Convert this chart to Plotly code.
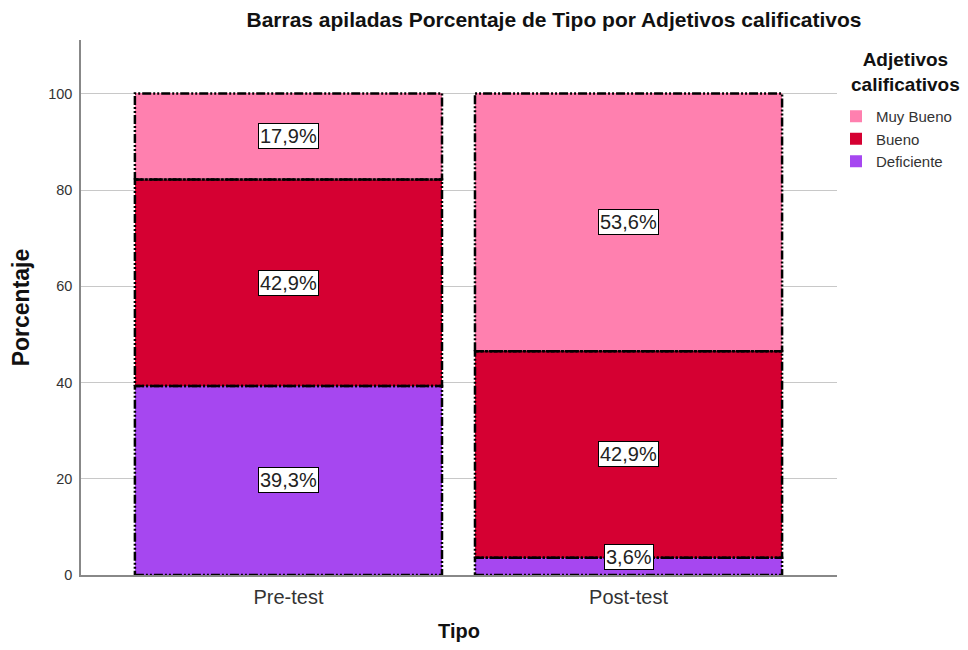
import plotly.graph_objects as go

categories = ["Pre-test", "Post-test"]
series_names = ["Deficiente", "Bueno", "Muy Bueno"]
deficiente = [39.3, 3.6]
bueno = [42.9, 42.9]
muy_bueno = [17.9, 53.6]
y_ticks = [0, 20, 40, 60, 80, 100]

values = [deficiente, bueno, muy_bueno]
colors = ["#A647F0", "#D50032", "#FF80AF"]

x_pos = list(range(len(categories)))
bar_w = 0.903
FONT = "Liberation Sans, Arial"

# page has an 8px body margin; compensate so no scrollbars appear
W, H = 952, 634
ML, MT, MR, MB = 73, 32, 123, 67
PW = W - ML - MR
PH = H - MT - MB

fig = go.Figure()
for name, vals, col in zip(series_names, values, colors):
    fig.add_trace(go.Bar(
        x=x_pos, y=vals, name=name, width=bar_w,
        marker=dict(color=col, line=dict(width=0)),
    ))

annotations = []
base = [0.0] * len(categories)
for vals in values:
    for i, v in enumerate(vals):
        x0, x1 = x_pos[i] - bar_w / 2, x_pos[i] + bar_w / 2
        y0, y1 = base[i], base[i] + v
        fig.add_trace(go.Scatter(
            x=[x0, x1, x1, x0, x0], y=[y0, y0, y1, y1, y0],
            mode="lines", showlegend=False, hoverinfo="skip",
            line=dict(color="black", width=2.5, dash="9px,2px,2px,2px,2px,2px"),
        ))
        small = v < 10
        annotations.append(dict(
            x=x_pos[i], y=(y0 if small else (y0 + y1) / 2),
            xref="x", yref="y", showarrow=False,
            text=f"{v:.1f}%".replace(".", ","),
            yanchor="bottom" if small else "middle",
            yshift=5 if small else 0,
            font=dict(family=FONT, size=20, color="#222"),
            bgcolor="white", bordercolor="black", borderwidth=1, borderpad=1,
        ))
        base[i] = y1

# legend title (page px -> paper)
annotations.append(dict(
    x=(906 - 81) / PW, y=(575 - 72) / PH, xref="paper", yref="paper",
    xanchor="center", yanchor="middle", showarrow=False,
    text="<b>Adjetivos<br>calificativos</b>",
    font=dict(family=FONT, size=19, color="#111"),
))

fig.update_layout(
    width=W, height=H,
    margin=dict(l=ML, r=MR, t=MT, b=MB, autoexpand=False),
    paper_bgcolor="white", plot_bgcolor="white",
    barmode="stack", bargap=0,
    title=dict(
        text="<b>Barras apiladas Porcentaje de Tipo por Adjetivos calificativos</b>",
        x=(554 - 8) / W, xanchor="center", y=1 - 12 / H, yanchor="middle",
        font=dict(family=FONT, size=21, color="#111"),
    ),
    font=dict(family=FONT, color="#222"),
    xaxis=dict(
        range=[-0.61, 1.613], tickmode="array", tickvals=x_pos, ticktext=categories,
        showgrid=False, zeroline=False, showline=True, linecolor="#888", linewidth=1.5,
        tickfont=dict(size=20, color="#333"), ticks="", ticklabelstandoff=3,
        automargin=False,
        title=dict(text="<b>Tipo</b>", font=dict(size=20, color="#111"), standoff=23),
    ),
    yaxis=dict(
        range=[0, 111.2], tickmode="array", tickvals=y_ticks,
        showgrid=True, gridcolor="#C8C8C8", gridwidth=1, zeroline=False,
        showline=True, linecolor="#888", linewidth=1.5,
        tickfont=dict(size=14.5, color="#333"), ticks="", ticklabelstandoff=4,
        automargin=False,
        title=dict(text="<b>Porcentaje</b>", font=dict(size=23, color="#111"), standoff=22),
    ),
    legend=dict(
        x=(836 - 81) / PW, y=(575 - 100) / PH, xanchor="left", yanchor="top",
        traceorder="reversed", font=dict(size=15, color="#333"),
        itemwidth=30, tracegroupgap=0, bgcolor="rgba(0,0,0,0)",
    ),
    annotations=annotations,
)

fig.write_html("out.html")
